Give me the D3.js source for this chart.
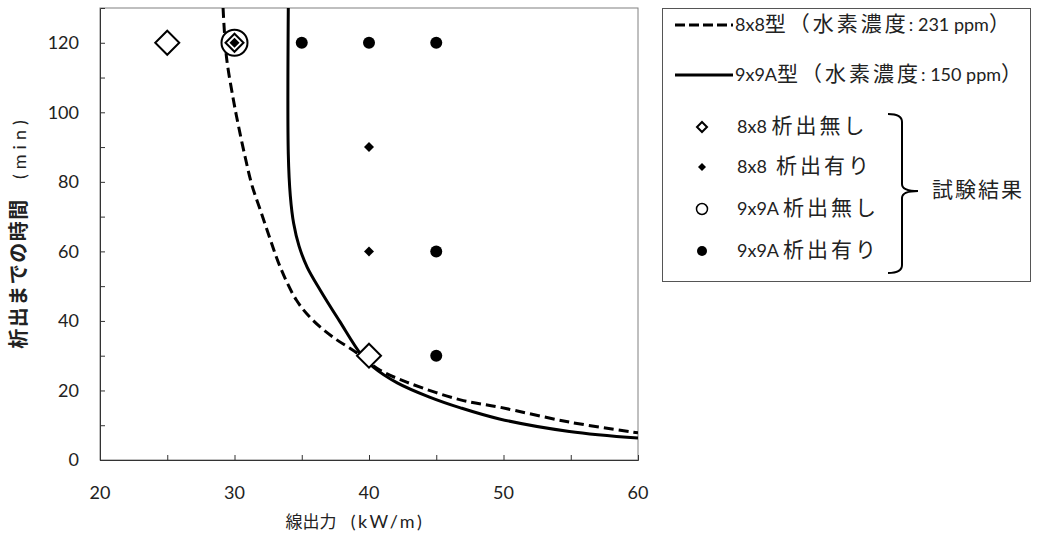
<!DOCTYPE html>
<html>
<head>
<meta charset="utf-8">
<script src="https://cdn.jsdelivr.net/npm/d3@7"></script>
<style>
  body { margin: 0; background: #fff; }
  svg text { font-family: Lato, "Noto Sans CJK JP", sans-serif; fill: #222; white-space: pre; }
</style>
</head>
<body>
<div id="chart"></div>
<script>
// axis ticks
const xTicks = [20, 30, 40, 50, 60];
const xMinorTicks = [25, 35, 45, 55];
const yTicks = [0, 20, 40, 60, 80, 100, 120];
const yMinorTicks = [10, 30, 50, 70, 90, 110];

// calculated curves [kW/m, min]
const curve8x8 = [[29.15, 130], [29.4, 116], [29.9, 104], [30.3, 96], [30.8, 87], [31.3, 79],
  [32.0, 71], [32.7, 63], [33.4, 55.5], [34.6, 46], [35.8, 40.3], [37.3, 35.4], [39.1, 30.8],
  [40.8, 25.9], [42.8, 22.4], [46.8, 17.3], [49.7, 15.2], [54.9, 10.9], [60, 7.8]];
const curve9x9A = [[34.0, 130], [34.0, 88], [34.15, 76], [34.4, 68], [34.8, 61.5], [35.4, 55.5],
  [36.4, 48.7], [37.8, 40.0], [39.4, 30.4], [40.3, 26.8], [42.1, 22.2], [44.5, 18.1],
  [46.8, 15.0], [49.7, 11.8], [54.9, 8.2], [60, 6.3]];

// test results
const noPrecip8x8 = [[25, 120], [30, 120], [40, 30]];
const precip8x8 = [[30, 120], [40, 90], [40, 60]];
const noPrecip9x9A = [[30, 120]];
const precip9x9A = [[35, 120], [40, 120], [45, 120], [45, 60], [45, 30]];

const legendLabels = ["8x8型（水素濃度: 231 ppm）", "9x9A型（水素濃度: 150 ppm）",
  "8x8 析出無し", "8x8  析出有り", "9x9A 析出無し", "9x9A 析出有り"];
const bracketLabel = "試験結果";
const xTitle = "線出力  (kW/m)";
const yTitle = "析出までの時間  (min)";

const svg = d3.select("#chart").append("svg")
  .attr("width", 1037)
  .attr("height", 536);

// mixed text: CJK runs and latin runs get their own size / spacing
function richText(sel, str, o) {
  const parts = str.split(/([\u3000-\u9fff\uff00-\uffef]+)/).filter(s => s.length);
  parts.forEach(p => {
    const cjk = /[\u3000-\u9fff\uff00-\uffef]/.test(p);
    sel.append("tspan")
      .attr("font-size", cjk ? o.cjk : o.latin)
      .attr("letter-spacing", cjk ? (o.cjkSp || 0) : (o.latinSp || 0))
      .attr("font-weight", cjk && o.bold ? "bold" : null)
      .text(p);
  });
  return sel;
}

const x = d3.scaleLinear().domain([20, 60]).range([100, 638]);
const y = d3.scaleLinear().domain([0, 130]).range([460, 8]);

// plot frame
svg.append("rect")
  .attr("x", x(20)).attr("y", y(130))
  .attr("width", x(60) - x(20)).attr("height", y(0) - y(130))
  .attr("fill", "none").attr("stroke", "#808080").attr("stroke-width", 1);

// axes with inward ticks
const yAxis = svg.append("g").attr("transform", `translate(${x(20)},0)`)
  .call(d3.axisRight(y).tickValues(yTicks.concat(yMinorTicks)).tickSize(5).tickFormat(""));
const xAxis = svg.append("g").attr("transform", `translate(0,${y(0)})`)
  .call(d3.axisTop(x).tickValues(xTicks.concat(xMinorTicks)).tickSize(5).tickFormat(""));
[xAxis, yAxis].forEach(g => {
  g.select(".domain").attr("stroke", "#333");
  g.selectAll(".tick line").attr("stroke", "#333");
});

svg.selectAll(".ylab").data(yTicks).enter().append("text")
  .attr("x", 79).attr("y", d => y(d)).attr("dy", "0.36em")
  .attr("text-anchor", "end").attr("font-size", 18).text(d => d);
svg.selectAll(".xlab").data(xTicks).enter().append("text")
  .attr("x", d => x(d)).attr("y", 493).attr("dy", "0.36em")
  .attr("text-anchor", "middle").attr("font-size", 18).text(d => d);

richText(svg.append("text").attr("x", 355).attr("y", 522).attr("dy", "0.36em")
  .attr("text-anchor", "middle"), xTitle, { cjk: 17, latin: 18, latinSp: 2.5 });
richText(svg.append("text").attr("transform", "translate(20,232) rotate(-90)").attr("dy", "0.36em")
  .attr("text-anchor", "middle"), yTitle, { cjk: 20, cjkSp: 1.5, latin: 18, latinSp: 5, bold: true });

// curves
svg.append("clipPath").attr("id", "plotclip").append("rect")
  .attr("x", x(20)).attr("y", y(130)).attr("width", x(60) - x(20)).attr("height", y(0) - y(130));
const line = d3.line().x(d => x(d[0])).y(d => y(d[1])).curve(d3.curveCatmullRom.alpha(0.5));
const curves = svg.append("g").attr("clip-path", "url(#plotclip)");
curves.append("path").datum(curve8x8)
  .attr("fill", "none").attr("stroke", "#000").attr("stroke-width", 3)
  .attr("stroke-dasharray", "10,5").attr("d", line);
curves.append("path").datum(curve9x9A)
  .attr("fill", "none").attr("stroke", "#000").attr("stroke-width", 3)
  .attr("d", line);

// markers
const diamond = r => `M0,${-r}L${r},0L0,${r}L${-r},0Z`;
svg.selectAll(".c9open").data(noPrecip9x9A).enter().append("circle")
  .attr("cx", d => x(d[0])).attr("cy", d => y(d[1])).attr("r", 13)
  .attr("fill", "#fff").attr("stroke", "#000").attr("stroke-width", 2);
svg.selectAll(".d8open").data(noPrecip8x8).enter().append("path")
  .attr("transform", d => `translate(${x(d[0])},${y(d[1])})`)
  .attr("d", d => diamond(d[0] === 30 ? 9 : 12))
  .attr("fill", "#fff").attr("stroke", "#000").attr("stroke-width", 2);
svg.selectAll(".d8fill").data(precip8x8).enter().append("path")
  .attr("transform", d => `translate(${x(d[0])},${y(d[1])})`)
  .attr("d", diamond(5)).attr("fill", "#000");
svg.selectAll(".c9fill").data(precip9x9A).enter().append("circle")
  .attr("cx", d => x(d[0])).attr("cy", d => y(d[1])).attr("r", 6).attr("fill", "#000");

// legend
const lg = svg.append("g");
lg.append("rect").attr("x", 662.5).attr("y", 8.5).attr("width", 368).attr("height", 273)
  .attr("fill", "#fff").attr("stroke", "#555").attr("stroke-width", 1);
const rowY = [25, 75, 127, 167, 209, 251];
lg.append("line").attr("x1", 675).attr("x2", 733).attr("y1", rowY[0]).attr("y2", rowY[0])
  .attr("stroke", "#000").attr("stroke-width", 3).attr("stroke-dasharray", "10,4");
lg.append("line").attr("x1", 675).attr("x2", 733).attr("y1", rowY[1]).attr("y2", rowY[1])
  .attr("stroke", "#000").attr("stroke-width", 3);
lg.append("path").attr("transform", `translate(702,${rowY[2]})`).attr("d", diamond(5))
  .attr("fill", "#fff").attr("stroke", "#000").attr("stroke-width", 2);
lg.append("path").attr("transform", `translate(702,${rowY[3]})`).attr("d", diamond(4))
  .attr("fill", "#000");
lg.append("circle").attr("cx", 702).attr("cy", rowY[4]).attr("r", 5.5)
  .attr("fill", "#fff").attr("stroke", "#000").attr("stroke-width", 1.5);
lg.append("circle").attr("cx", 702).attr("cy", rowY[5]).attr("r", 5).attr("fill", "#000");
legendLabels.forEach((t, i) => {
  richText(lg.append("text").attr("x", i < 2 ? 735 : 737).attr("y", rowY[i]).attr("dy", "0.36em"),
    t, { cjk: 21, cjkSp: 3, latin: 18 });
});
// bracket
lg.append("path")
  .attr("d", "M888,114 Q902,114 902,122 L902,184 Q902,191 918,191 Q902,191 902,198 L902,265 Q902,273 888,273")
  .attr("fill", "none").attr("stroke", "#000").attr("stroke-width", 2);
richText(lg.append("text").attr("x", 932).attr("y", 191).attr("dy", "0.36em"),
  bracketLabel, { cjk: 21, cjkSp: 2, latin: 18 });
</script>
</body>
</html>
